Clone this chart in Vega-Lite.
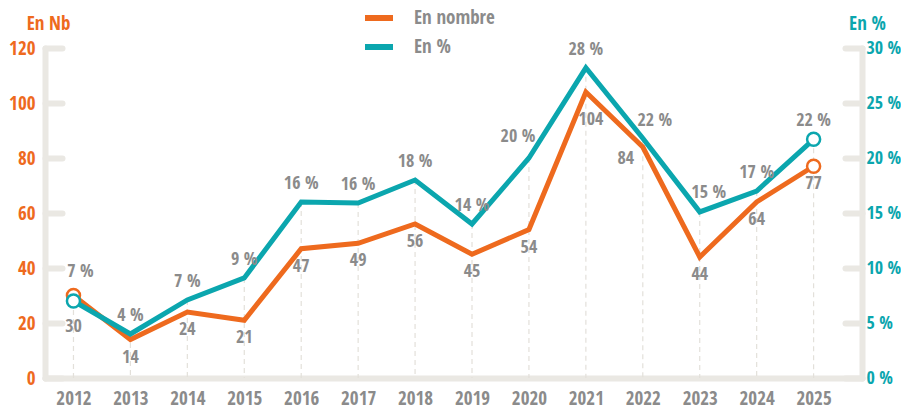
{
  "$schema": "https://vega.github.io/schema/vega-lite/v6.json",
  "width": 817,
  "height": 330,
  "autosize": {"type": "none"},
  "padding": {"left": 45, "top": 48, "right": 39, "bottom": 32},
  "background": "white",
  "config": {
    "view": {"stroke": null},
    "font": "'Liberation Sans Narrow', 'Open Sans Condensed', 'DejaVu Sans Condensed', sans-serif",
    "axis": {"grid": false, "domainColor": "#EAE8E3", "domainWidth": 6, "domainCap": "round", "tickColor": "#EAE8E3", "tickWidth": 6, "tickCap": "round", "labelFontWeight": "bold", "labelFontSize": 19, "titleFontWeight": "bold", "titleFontSize": 19}
  },
  "data": {
    "values": [
      {"year": 2012, "nb": 30, "pct": 7.0, "lbl": "7 %"},
      {"year": 2013, "nb": 14, "pct": 4.0, "lbl": "4 %"},
      {"year": 2014, "nb": 24, "pct": 7.1, "lbl": "7 %"},
      {"year": 2015, "nb": 21, "pct": 9.1, "lbl": "9 %"},
      {"year": 2016, "nb": 47, "pct": 16.0, "lbl": "16 %"},
      {"year": 2017, "nb": 49, "pct": 15.9, "lbl": "16 %"},
      {"year": 2018, "nb": 56, "pct": 18.0, "lbl": "18 %"},
      {"year": 2019, "nb": 45, "pct": 14.0, "lbl": "14 %"},
      {"year": 2020, "nb": 54, "pct": 20.0, "lbl": "20 %"},
      {"year": 2021, "nb": 104, "pct": 28.2, "lbl": "28 %"},
      {"year": 2022, "nb": 84, "pct": 21.8, "lbl": "22 %"},
      {"year": 2023, "nb": 44, "pct": 15.1, "lbl": "15 %"},
      {"year": 2024, "nb": 64, "pct": 17.0, "lbl": "17 %"},
      {"year": 2025, "nb": 77, "pct": 21.7, "lbl": "22 %"}
    ]
  },
  "encoding": {
    "x": {"field": "year", "type": "quantitative", "scale": {"domain": [2011.5, 2025.85], "nice": false, "zero": false},
      "axis": {"values": [2012,2013,2014,2015,2016,2017,2018,2019,2020,2021,2022,2023,2024,2025], "format": "d", "title": null, "ticks": false, "labelColor": "#8B8B8B", "labelFontSize": 19, "labelPadding": 11}}
  },
  "layer": [
    {
      "encoding": {"y": {"field": "pct", "type": "quantitative", "scale": {"domain": [0, 30], "nice": false}, "axis": null}},
      "mark": {"type": "rule", "stroke": "#E3E0DA", "strokeWidth": 1.2, "strokeDash": [5, 4]}
    },
    {
      "encoding": {"y": {"field": "nb", "type": "quantitative", "scale": {"domain": [0, 120], "nice": false},
        "axis": {"orient": "left", "values": [0,20,40,60,80,100,120], "tickSize": -17, "labelPadding": 27, "labelColor": "#EE6A1E",
          "title": "En Nb", "titleColor": "#EE6A1E", "titleAngle": 0, "titleAlign": "center", "titleBaseline": "middle", "titleX": 3, "titleY": -25}}},
      "layer": [
        {"mark": {"type": "line", "stroke": "#EE6A1E", "strokeWidth": 5, "strokeJoin": "miter"},
         "encoding": {"color": {"datum": "En nombre", "type": "nominal", "scale": {"domain": ["En nombre", "En %"], "range": ["#EE6A1E", "#0BA6AE"]},
           "legend": {"orient": "none", "legendX": 317, "legendY": -47, "title": null, "symbolType": "stroke", "symbolStrokeWidth": 6, "symbolSize": 784, "labelFontSize": 19, "labelFontWeight": "bold", "labelColor": "#8B8B8B", "labelOffset": 18, "rowPadding": -2}}}},
        {"transform": [{"filter": "datum.year == 2012 || datum.year == 2025"}],
         "mark": {"type": "point", "shape": "circle", "filled": true, "fill": "white", "opacity": 1, "stroke": "#EE6A1E", "strokeWidth": 2.5, "size": 170}},
        {"transform": [{"filter": "indexof([2012, 2021, 2022], datum.year) < 0"}],
         "mark": {"type": "text", "dy": 18, "baseline": "middle", "fontSize": 18, "fontWeight": "bold", "fill": "#8B8B8B"},
         "encoding": {"text": {"field": "nb"}}},
        {"transform": [{"filter": "datum.year == 2012"}],
         "mark": {"type": "text", "dy": 31, "baseline": "middle", "fontSize": 18, "fontWeight": "bold", "fill": "#8B8B8B"},
         "encoding": {"text": {"field": "nb"}}},
        {"transform": [{"filter": "datum.year == 2021"}],
         "mark": {"type": "text", "dx": 5, "dy": 28, "baseline": "middle", "fontSize": 18, "fontWeight": "bold", "fill": "#8B8B8B"},
         "encoding": {"text": {"field": "nb"}}},
        {"transform": [{"filter": "datum.year == 2022"}],
         "mark": {"type": "text", "dx": -17, "dy": 12, "baseline": "middle", "fontSize": 18, "fontWeight": "bold", "fill": "#8B8B8B"},
         "encoding": {"text": {"field": "nb"}}}
      ]
    },
    {
      "encoding": {"y": {"field": "pct", "type": "quantitative", "scale": {"domain": [0, 30], "nice": false},
        "axis": {"orient": "right", "values": [0,5,10,15,20,25,30], "labelExpr": "datum.value + ' %'", "tickSize": -17, "labelPadding": 21, "labelFontSize": 18, "labelColor": "#0BA6AE",
          "title": "En %", "titleColor": "#0BA6AE", "titleAngle": 0, "titleAlign": "center", "titleBaseline": "middle", "titleX": 5, "titleY": -25}}},
      "layer": [
        {"mark": {"type": "line", "stroke": "#0BA6AE", "strokeWidth": 5, "strokeJoin": "miter"},
         "encoding": {"color": {"datum": "En %", "type": "nominal"}}},
        {"transform": [{"filter": "datum.year == 2012 || datum.year == 2025"}],
         "mark": {"type": "point", "shape": "circle", "filled": true, "fill": "white", "opacity": 1, "stroke": "#0BA6AE", "strokeWidth": 2.5, "size": 170}},
        {"transform": [{"filter": "indexof([2012, 2020, 2022, 2023], datum.year) < 0"}],
         "mark": {"type": "text", "dy": -18, "baseline": "middle", "fontSize": 18, "fontWeight": "bold", "fill": "#8B8B8B"},
         "encoding": {"text": {"field": "lbl"}}},
        {"transform": [{"filter": "datum.year == 2012"}],
         "mark": {"type": "text", "dx": 7, "dy": -29, "baseline": "middle", "fontSize": 18, "fontWeight": "bold", "fill": "#8B8B8B"},
         "encoding": {"text": {"field": "lbl"}}},
        {"transform": [{"filter": "datum.year == 2020"}],
         "mark": {"type": "text", "dx": -11, "dy": -21, "baseline": "middle", "fontSize": 18, "fontWeight": "bold", "fill": "#8B8B8B"},
         "encoding": {"text": {"field": "lbl"}}},
        {"transform": [{"filter": "datum.year == 2022"}],
         "mark": {"type": "text", "dx": 12, "dy": -17, "baseline": "middle", "fontSize": 18, "fontWeight": "bold", "fill": "#8B8B8B"},
         "encoding": {"text": {"field": "lbl"}}},
        {"transform": [{"filter": "datum.year == 2023"}],
         "mark": {"type": "text", "dx": 9, "dy": -19, "baseline": "middle", "fontSize": 18, "fontWeight": "bold", "fill": "#8B8B8B"},
         "encoding": {"text": {"field": "lbl"}}}
      ]
    }
  ],
  "resolve": {"scale": {"y": "independent"}}
}
